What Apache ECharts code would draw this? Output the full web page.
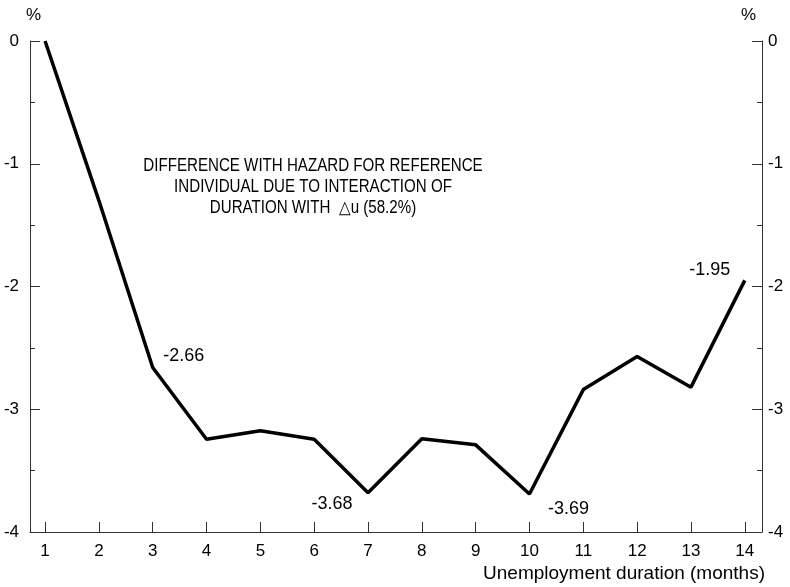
<!DOCTYPE html>
<html>
<head>
<meta charset="utf-8">
<script src="https://cdn.jsdelivr.net/npm/echarts@6/dist/echarts.min.js"></script>
<style>html,body{margin:0;padding:0;background:#fff}#c{width:790px;height:587px}</style>
</head>
<body>
<div id="c"></div>
<script>
// Data
var months = [1, 2, 3, 4, 5, 6, 7, 8, 9, 10, 11, 12, 13, 14];
var hazardDiff = [0, -1.3, -2.66, -3.245, -3.175, -3.245, -3.68, -3.24, -3.29, -3.69, -2.84, -2.57, -2.82, -1.95];
var labelText = {3: '-2.66', 7: '-3.68', 10: '-3.69', 14: '-1.95'};
var yTicks = [0, -1, -2, -3, -4];
var xTitle = 'Unemployment duration (months)';
var noteLines = ['DIFFERENCE WITH HAZARD FOR REFERENCE', 'INDIVIDUAL DUE TO INTERACTION OF', 'DURATION WITH  \u25B3u (58.2%)'];

var labelPlace = {
  3: {position: 'right', shift: [5, -11]},
  7: {position: 'left', shift: [-10, 11]},
  10: {position: 'right', shift: [13, 15]},
  14: {position: 'left', shift: [-9, -10]}
};

var FONT = '"Liberation Sans", Arial, sans-serif';
var AX = '#333';

var seriesData = months.map(function (m, i) {
  var item = {value: [m, hazardDiff[i]]};
  if (labelText[m]) {
    item.label = {
      show: true,
      formatter: labelText[m],
      position: labelPlace[m].position,
      distance: 5,
      fontSize: 18,
      fontFamily: FONT,
      color: '#000'
    };
  }
  return item;
});

function yAxisCfg(pos, margin) {
  return {
    type: 'value',
    position: pos,
    min: -4, max: 0, interval: 1,
    axisLine: {show: true, lineStyle: {color: AX, width: 1}},
    axisTick: {show: true, inside: true, length: 10, lineStyle: {color: AX}},
    minorTick: {show: true, splitNumber: 2, length: 5, lineStyle: {color: AX}},
    splitLine: {show: false},
    axisLabel: {fontSize: 17, fontFamily: FONT, color: '#000', margin: margin,
      customValues: yTicks}
  };
}

var chart = echarts.init(document.getElementById('c'));
chart.setOption({
  animation: false,
  backgroundColor: '#fff',
  grid: {left: 30, right: 28, top: 41, bottom: 55},
  xAxis: {
    type: 'value',
    min: 0.72, max: 14.32,
    axisLine: {show: true, onZero: false, lineStyle: {color: AX, width: 1}},
    axisTick: {show: true, inside: true, length: 10, lineStyle: {color: AX}, customValues: months},
    axisLabel: {fontSize: 17, fontFamily: FONT, color: '#000', margin: 11, customValues: months},
    splitLine: {show: false}
  },
  yAxis: [yAxisCfg('left', 11), yAxisCfg('right', 6)],
  series: [{
    type: 'line',
    yAxisIndex: 0,
    data: seriesData,
    showSymbol: true,
    symbol: 'circle',
    symbolSize: 1,
    itemStyle: {color: 'rgba(0,0,0,0)'},
    lineStyle: {color: '#000', width: 3.5},
    label: {show: false},
    labelLayout: function (params) {
      var m = months[params.dataIndex];
      var p = labelPlace[m];
      if (!p) return {};
      return {dx: p.shift[0], dy: p.shift[1], hideOverlap: false};
    }
  }],
  graphic: [
    {type: 'text', left: 26, top: 7, style: {text: '%', fontSize: 17, fontFamily: FONT, fill: '#000'}},
    {type: 'text', right: 34, top: 7, style: {text: '%', fontSize: 17, fontFamily: FONT, fill: '#000'}},
    {type: 'text', right: 25, bottom: 4, style: {text: xTitle, fontSize: 19, fontFamily: FONT, fill: '#000'}},
    {type: 'text', x: 313, y: 156, scaleX: 0.84, originX: 0, style: {
      text: noteLines.join('\n'), fontSize: 18, lineHeight: 21,
      fontFamily: FONT,
      fill: '#000', align: 'center', verticalAlign: 'top'}}
  ]
});
</script>
</body>
</html>
